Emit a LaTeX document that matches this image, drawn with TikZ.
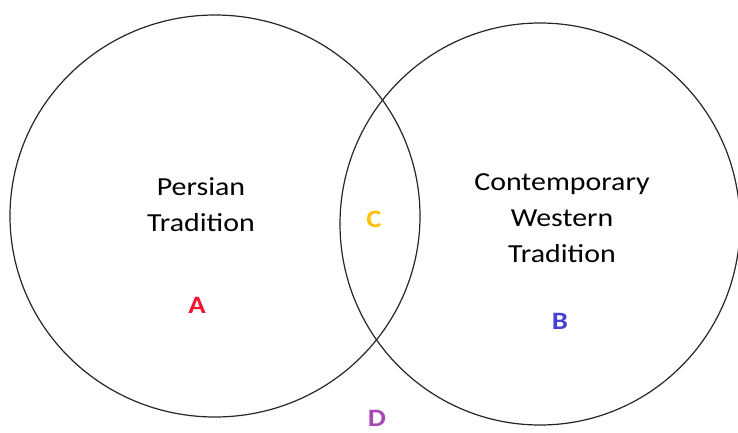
\documentclass[tikz,border=0pt]{standalone}
\usepackage{fontspec}
\setmainfont{Carlito}[FakeStretch=1.15]
\usepackage{xcolor}
\definecolor{regred}{HTML}{F01530}
\definecolor{regblue}{HTML}{4343D0}
\definecolor{regyellow}{HTML}{FFC000}
\definecolor{regpurple}{HTML}{A848B4}

\begin{document}
\begin{tikzpicture}[x=1pt,y=-1pt,
  vennring/.style={line width=1.2pt,black!85},
  tradtext/.style={align=center,inner sep=0pt,font=\fontsize{26}{36}\selectfont},
  regletter/.style={inner sep=0pt,font=\fontsize{25}{28}\selectfont\bfseries}]
\useasboundingbox[fill=white] (0,0) rectangle (738,432);

\draw[vennring] (215,216) ellipse [x radius=205pt, y radius=201pt];
\draw[vennring] (540,224) ellipse [x radius=200pt, y radius=201pt];

\node[tradtext] (persian) at (201,205) {Persian\\Tradition};
\node[tradtext] (western) at (562,218) {Contemporary\\Western\\Tradition};

\node[regletter,regred] (regA) at (197,305) {A};
\node[regletter,regblue] (regB) at (560,321) {B};
\node[regletter,regyellow] (regC) at (374,219) {C};
\node[regletter,regpurple] (regD) at (377,418) {D};
\end{tikzpicture}
\end{document}
